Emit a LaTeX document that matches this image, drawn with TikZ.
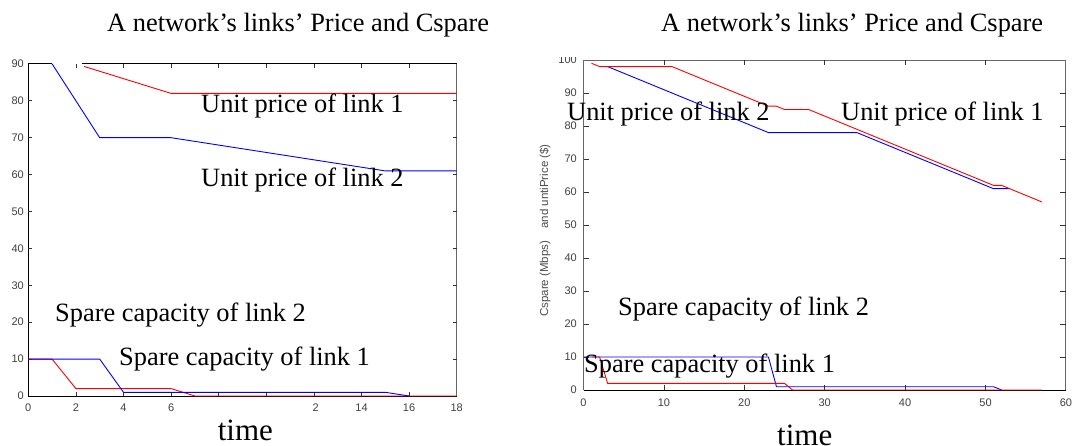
\documentclass[tikz,border=0pt]{standalone}
\usepackage{fontspec}
\setmainfont{Liberation Serif}
\newfontfamily\ticksf{Liberation Sans}
\begin{document}
\begin{tikzpicture}[x=1pt,y=-1pt,
  lbl/.style={anchor=base west, inner sep=0pt, font=\fontsize{26.4}{28}\selectfont},
  tim/.style={anchor=base west, inner sep=0pt, font=\fontsize{31}{33}\selectfont},
  tk/.style={inner sep=0pt, font=\ticksf\fontsize{11}{12}\selectfont, text=black!75},
  rline/.style={draw=red, line width=0.9pt, line join=round},
  bline/.style={draw=blue, line width=0.9pt, line join=round},
  fr/.style={line width=0.9pt, draw=black},
  frg/.style={line width=0.9pt, draw=black!60},
  tick/.style={line width=0.7pt, draw=black!80},
]
\useasboundingbox (0,0) rectangle (1074,446);
\fill[white] (0,0) rectangle (1074,446);

% ---------------- left plot ----------------
\begin{scope}[shift={(28.3,396)}, x=23.8pt, y=3.69pt]
  \draw[fr] (0,90) -- (0,0) -- (18,0);
  \draw[frg] (18,0) -- (18,90);
  \draw[fr] (0,90) -- (0.98,90);
  \draw[fr] (2.24,90) -- (18,90);
  \foreach \t in {2,4,...,16} {
    \draw[tick] (\t,0) -- ++(0,4pt);
    \draw[tick] (\t,90) -- ++(0,-4pt);
  }
  \foreach \v in {10,20,...,80} {
    \draw[tick] (0,\v) -- ++(4pt,0);
    \draw[tick] (18,\v) -- ++(-4pt,0);
  }
  \foreach \v in {0,10,...,90} {
    \node[tk, anchor=east, xshift=-4.3pt] (ly\v) at (0,\v) {\v};
  }
  \foreach \t/\s in {0/0,2/2,4/4,6/6,12.08/2,14/14,16/16,18/18} {
    \node[tk, anchor=north, yshift=-7.5pt] (lx\s) at (\t,0) {\s};
  }
  % prices
  \draw[rline] (2.35,89.3) -- (6,82) -- (18,82);
  \draw[bline] (1,90) -- (3,70) -- (6,70) -- (15,61) -- (18,61);
  % spare capacity
  \draw[rline] (0,10) -- (1,10) -- (2,2) -- (6,2) -- (7,0) -- (18,0);
  \draw[bline] (0,10) -- (3,10) -- (4,1) -- (15,1) -- (16,0);
\end{scope}

\node[lbl] (ltitle) at (107,32) {A network’s links’ Price and Cspare};
\node[lbl] (lup1) at (201,113) {Unit price of link 1};
\node[lbl] (lup2) at (201,187) {Unit price of link 2};
\node[lbl] (lsc2) at (55,322) {Spare capacity of link 2};
\node[lbl] (lsc1) at (119,366) {Spare capacity of link 1};
\node[tim] (ltime) at (217.6,440) {time};

% ---------------- right plot ----------------
\begin{scope}[shift={(583.5,390)}, x=8.04pt, y=3.3pt]
  \draw[frg] (0,0) -- (0,100) -- (60,100) -- (60,0);
  \draw[fr] (0,0) -- (60,0);
  \foreach \t in {10,20,...,50} {
    \draw[tick] (\t,0) -- ++(0,5pt);
    \draw[tick] (\t,100) -- ++(0,-5pt);
  }
  \foreach \v in {10,20,...,90} {
    \draw[tick] (0,\v) -- ++(5pt,0);
    \draw[tick] (60,\v) -- ++(-6pt,0);
  }
  \foreach \v in {0,10,...,90} {
    \node[tk, anchor=east, xshift=-6.5pt] (ry\v) at (0,\v) {\v};
  }
  \foreach \t in {0,10,...,60} {
    \node[tk, anchor=north, yshift=-8.5pt] (rx\t) at (\t,0) {\t};
  }
  % prices
  \draw[bline] (3,98) -- (23,78) -- (34,78) -- (51,61) -- (53,61);
  \draw[rline] (1,99) -- (2,98) -- (11,98) -- (22,87) -- (23,86) -- (24,86)
     -- (25,85) -- (28,85) -- (51,62) -- (52,62) -- (53,61) -- (57,57);
  % spare capacity
  \draw[bline] (0,10) -- (23,10) -- (24,1) -- (51,1) -- (52,0);
  \draw[rline] (1,10) -- (2,10) -- (3,2) -- (25,2) -- (26,0) -- (57,0);
\end{scope}

\begin{scope}
  \clip (540,57.5) rectangle (583,75);
  \node[tk, anchor=east] (ry100) at (577,60) {100};
\end{scope}

\node[tk, rotate=90, font=\ticksf\fontsize{11.5}{12}\selectfont, text=black!70] (ylab) at (545,230.5)
  {Cspare (Mbps)\hspace{12pt}and untiPrice (\$)};

\node[lbl] (rtitle) at (661,32) {A network’s links’ Price and Cspare};
\node[lbl] (rup2) at (567,121) {Unit price of link 2};
\node[lbl] (rup1) at (841,121) {Unit price of link 1};
\node[lbl] (rsc2) at (618,316) {Spare capacity of link 2};
\node[lbl] (rsc1) at (584,373) {Spare capacity of link 1};
\node[tim] (rtime) at (777,445) {time};
\end{tikzpicture}
\end{document}
